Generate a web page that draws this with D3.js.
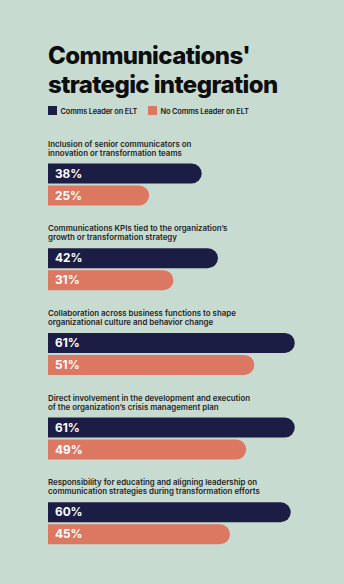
<!DOCTYPE html>
<html>
<head>
<meta charset="utf-8">
<script src="https://cdn.jsdelivr.net/npm/d3@7"></script>
<style>
  html, body { margin: 0; padding: 0; background: #c8dbd1; }
  svg { display: block; font-family: Inter, "Noto Sans", sans-serif; }
</style>
</head>
<body>
<svg id="chart" width="344" height="584"></svg>
<script>
// Survey items (two-line labels) and the share of respondents in each group
const questions = [
  ["Inclusion of senior communicators on", "innovation or transformation teams"],
  ["Communications KPIs tied to the organization\u2019s", "growth or transformation strategy"],
  ["Collaboration across business functions to shape", "organizational culture and behavior change"],
  ["Direct involvement in the development and execution", "of the organization\u2019s crisis management plan"],
  ["Responsibility for educating and aligning leadership on", "communication strategies during transformation efforts"]
];
const withLeader = [38, 42, 61, 61, 60];
const withoutLeader = [25, 31, 51, 49, 45];
const seriesNames = ["Comms Leader on ELT", "No Comms Leader on ELT"];
const seriesColors = ["#1c1d45", "#dc7761"];
const titleLines = ["Communications'", "strategic integration"];

const svg = d3.select("#chart");
const left = 48;

// Title
svg.append("g").selectAll("text").data(titleLines).join("text")
  .attr("x", left)
  .attr("y", (d, i) => 63.5 + i * 29)
  .attr("fill", "#0d0d0d")
  .attr("font-size", 24)
  .attr("font-weight", 800)
  .attr("letter-spacing", -0.6)
  .text(d => d);

// Legend
const legendX = [48, 148];
const legend = svg.append("g").selectAll("g").data(seriesNames).join("g")
  .attr("transform", (d, i) => `translate(${legendX[i]},106)`);
legend.append("rect").attr("width", 9).attr("height", 9)
  .attr("fill", (d, i) => seriesColors[i]);
legend.append("text").attr("x", 12.5).attr("y", 7.6)
  .attr("font-size", 7.4).attr("font-weight", 600).attr("fill", "#1a1a1a")
  .attr("letter-spacing", -0.15)
  .text(d => d);

// Scales
const x = d3.scaleLinear().domain([0, 100]).range([left, left + 404.5]);
const groupY = d3.scaleBand().domain(d3.range(questions.length))
  .range([146.5, 146.5 + 84.7 * questions.length]).paddingInner(0).paddingOuter(0);
const barH = 20, barGap = 2, barOffset = 17;

// Rounded-right bar path
function barPath(x0, x1, y0, h) {
  const r = h / 2;
  return `M${x0},${y0}H${x1 - r}A${r},${r} 0 0 1 ${x1 - r},${y0 + h}H${x0}Z`;
}

const groups = svg.append("g").selectAll("g").data(questions).join("g")
  .attr("transform", (d, i) => `translate(0,${groupY(i)})`);

groups.append("text")
  .attr("font-size", 7.9).attr("font-weight", 600).attr("fill", "#1f1f1f")
  .selectAll("tspan").data(d => d).join("tspan")
  .attr("x", left).attr("y", (d, i) => i * 9.2)
  .text(d => d);

groups.each(function(d, i) {
  const vals = [withLeader[i], withoutLeader[i]];
  const g = d3.select(this);
  vals.forEach((v, j) => {
    const y0 = barOffset + j * (barH + barGap);
    g.append("path")
      .attr("d", barPath(x(0), x(v), y0, barH))
      .attr("fill", seriesColors[j]);
    g.append("text")
      .attr("x", left + 7).attr("y", y0 + barH / 2 + 4)
      .attr("font-size", 11.8).attr("font-weight", 700).attr("fill", "#ffffff")
      .text(v + "%");
  });
});
</script>
</body>
</html>
